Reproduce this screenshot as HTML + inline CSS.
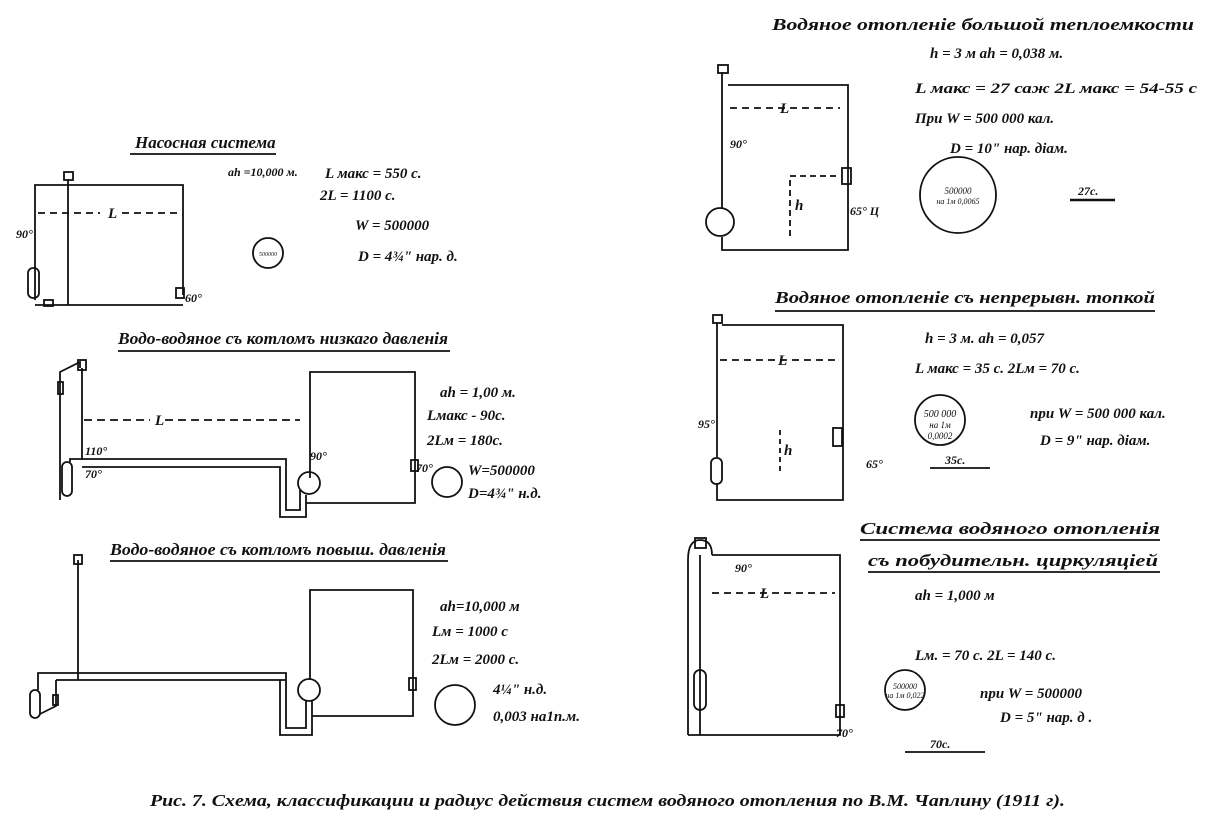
<!DOCTYPE html>
<html><head><meta charset="utf-8"><style>
html,body{margin:0;padding:0;background:#fff;}
svg{display:block;}
text{font-family:"Liberation Serif",serif;font-style:italic;fill:#111;}
.h{font-size:17px;font-weight:bold;}
.t{font-size:15px;font-weight:bold;}
.s{font-size:12px;font-weight:bold;}
.cap{font-size:17px;font-weight:bold;}
</style></head><body>
<svg width="1208" height="825" viewBox="0 0 1208 825" xmlns="http://www.w3.org/2000/svg">
<g stroke="#111" stroke-width="1.8" fill="none">
<!-- Diagram 1 -->
<line x1="130" y1="154" x2="276" y2="154"/>
<polyline points="35,300 35,185 183,185 183,295"/>
<line x1="68" y1="180" x2="68" y2="305"/>
<line x1="35" y1="305" x2="183" y2="305"/>
<line x1="38" y1="213" x2="100" y2="213" stroke-dasharray="7,5"/>
<line x1="122" y1="213" x2="180" y2="213" stroke-dasharray="7,5"/>
<rect x="64" y="172" width="9" height="8"/>
<rect x="28" y="268" width="11" height="30" rx="5"/>
<rect x="44" y="300" width="9" height="6"/>
<rect x="176" y="288" width="8" height="10"/>
<circle cx="268" cy="253" r="15"/>
<!-- Diagram 2 -->
<line x1="118" y1="351" x2="450" y2="351"/>
<polyline points="80,368 80,362 60,372 60,500"/>
<line x1="82" y1="368" x2="82" y2="460"/>
<rect x="78" y="360" width="8" height="10"/>
<rect x="58" y="382" width="5" height="12"/>
<rect x="62" y="462" width="10" height="34" rx="5"/>
<line x1="84" y1="420" x2="150" y2="420" stroke-dasharray="8,5"/>
<line x1="165" y1="420" x2="300" y2="420" stroke-dasharray="8,5"/>
<polyline points="70,462 70,459 286,459 286,510 300,510 300,490"/>
<polyline points="82,467 280,467 280,517 306,517 306,495"/>
<polyline points="310,478 310,372 415,372 415,503 306,503"/>
<circle cx="309" cy="483" r="11"/>
<rect x="411" y="460" width="7" height="11"/>
<circle cx="447" cy="482" r="15"/>
<!-- Diagram 3 -->
<line x1="110" y1="561" x2="448" y2="561"/>
<line x1="78" y1="560" x2="78" y2="680"/>
<rect x="74" y="555" width="8" height="9"/>
<polyline points="38,690 38,673 286,673 286,728 306,728 306,700"/>
<polyline points="56,680 286,680 280,680 280,735 312,735 312,700"/>
<polyline points="56,680 56,706 40,714"/>
<rect x="30" y="690" width="10" height="28" rx="5"/>
<rect x="53" y="695" width="5" height="10"/>
<polyline points="310,680 310,590 413,590 413,716 312,716"/>
<circle cx="309" cy="690" r="11"/>
<rect x="409" y="678" width="7" height="12"/>
<circle cx="455" cy="705" r="20"/>
<!-- Right top -->
<polyline points="722,72 722,208"/>
<rect x="718" y="65" width="10" height="8"/>
<polyline points="728,85 848,85 848,250 722,250 722,237"/>
<circle cx="720" cy="222" r="14"/>
<line x1="730" y1="108" x2="840" y2="108" stroke-dasharray="7,5"/>
<polyline points="790,236 790,176 840,176" stroke-dasharray="6,4"/>
<rect x="842" y="168" width="9" height="16"/>
<circle cx="958" cy="195" r="38"/>
<line x1="1070" y1="200" x2="1115" y2="200" stroke-width="2.5"/>
<!-- Right middle -->
<line x1="775" y1="311" x2="1155" y2="311"/>
<rect x="713" y="315" width="9" height="8"/>
<polyline points="717,323 717,457"/>
<polyline points="722,325 843,325 843,500 717,500 717,483"/>
<rect x="711" y="458" width="11" height="26" rx="5"/>
<line x1="720" y1="360" x2="840" y2="360" stroke-dasharray="7,5"/>
<line x1="780" y1="430" x2="780" y2="475" stroke-dasharray="5,4"/>
<rect x="833" y="428" width="9" height="18"/>
<circle cx="940" cy="420" r="25"/>
<line x1="930" y1="468" x2="990" y2="468"/>
<!-- Right bottom -->
<line x1="860" y1="540" x2="1160" y2="540"/>
<line x1="868" y1="572" x2="1160" y2="572"/>
<path d="M688,735 L688,560 Q688,540 700,540 Q712,540 712,555"/>
<line x1="700" y1="555" x2="700" y2="735"/>
<rect x="695" y="538" width="11" height="10"/>
<rect x="694" y="670" width="12" height="40" rx="6"/>
<polyline points="712,555 840,555 840,735 688,735"/>
<line x1="712" y1="593" x2="835" y2="593" stroke-dasharray="7,5"/>
<rect x="836" y="705" width="8" height="12"/>
<circle cx="905" cy="690" r="20"/>
<line x1="905" y1="752" x2="985" y2="752"/>
</g>
<!-- texts -->
<text class="h" x="135" y="148">Насосная  система</text>
<text class="s" x="228" y="176">ah =10,000 м.</text>
<text class="t" x="325" y="178">L макс = 550 с.</text>
<text class="t" x="320" y="200">2L =  1100 с.</text>
<text class="t" x="355" y="230">W = 500000</text>
<text class="t" x="358" y="261">D = 4¾" нар. д.</text>
<text class="t" x="108" y="218">L</text>
<text class="s" x="16" y="238">90°</text>
<text class="s" x="185" y="302">60°</text>
<text x="268" y="256" font-size="6" text-anchor="middle">500000</text>

<text class="h" x="118" y="344" textLength="330" lengthAdjust="spacingAndGlyphs">Водо-водяное съ котломъ низкаго давленія</text>
<text class="t" x="155" y="425">L</text>
<text class="s" x="85" y="455">110°</text>
<text class="s" x="85" y="478">70°</text>
<text class="s" x="310" y="460">90°</text>
<text class="s" x="416" y="472">70°</text>
<text class="t" x="440" y="397">ah =  1,00 м.</text>
<text class="t" x="427" y="420">Lмакс - 90с.</text>
<text class="t" x="427" y="445">2Lм = 180с.</text>
<text class="t" x="468" y="475">W=500000</text>
<text class="t" x="468" y="498">D=4¾" н.д.</text>

<text class="h" x="110" y="555" textLength="336" lengthAdjust="spacingAndGlyphs">Водо-водяное съ котломъ повыш. давленія</text>
<text class="t" x="440" y="611">ah=10,000 м</text>
<text class="t" x="432" y="636">Lм  =  1000 с</text>
<text class="t" x="432" y="664">2Lм = 2000 с.</text>
<text class="t" x="493" y="694">4¼" н.д.</text>
<text class="t" x="493" y="721">0,003 на1п.м.</text>

<text class="h" x="772" y="30" textLength="422" lengthAdjust="spacingAndGlyphs">Водяное  отопленіе  большой  теплоемкости</text>
<text class="t" x="930" y="58">h = 3 м     ah = 0,038 м.</text>
<text class="t" x="915" y="93" textLength="282" lengthAdjust="spacingAndGlyphs">L макс = 27 саж   2L макс = 54-55 с</text>
<text class="t" x="915" y="123">При  W = 500 000 кал.</text>
<text class="t" x="950" y="153">D = 10" нар. діам.</text>
<text x="958" y="194" font-size="9" text-anchor="middle">500000</text>
<text x="958" y="204" font-size="8" text-anchor="middle">на 1м 0,0065</text>
<text class="s" x="1078" y="195">27с.</text>
<text class="t" x="780" y="113">L</text>
<text class="s" x="730" y="148">90°</text>
<text class="t" x="795" y="210">h</text>
<text class="s" x="850" y="215">65° Ц</text>

<text class="h" x="775" y="303" textLength="380" lengthAdjust="spacingAndGlyphs">Водяное отопленіе съ непрерывн. топкой</text>
<text class="t" x="925" y="343">h = 3 м.     ah = 0,057</text>
<text class="t" x="915" y="373">L макс  = 35 с.   2Lм = 70 с.</text>
<text class="t" x="1030" y="418">при W = 500 000 кал.</text>
<text class="t" x="1040" y="445">D = 9" нар. діам.</text>
<text x="940" y="417" font-size="10" text-anchor="middle">500 000</text>
<text x="940" y="428" font-size="9" text-anchor="middle">на 1м</text>
<text x="940" y="439" font-size="9" text-anchor="middle">0,0002</text>
<text class="s" x="945" y="464">35с.</text>
<text class="t" x="778" y="365">L</text>
<text class="s" x="698" y="428">95°</text>
<text class="s" x="866" y="468">65°</text>
<text class="t" x="784" y="455">h</text>

<text class="h" x="860" y="534" textLength="300" lengthAdjust="spacingAndGlyphs">Система  водяного  отопленія</text>
<text class="h" x="868" y="566" textLength="290" lengthAdjust="spacingAndGlyphs">съ  побудительн. циркуляціей</text>
<text class="s" x="735" y="572">90°</text>
<text class="t" x="760" y="598">L</text>
<text class="t" x="915" y="600">ah = 1,000 м</text>
<text class="t" x="915" y="660">Lм. = 70 с.   2L = 140 с.</text>
<text class="t" x="980" y="698">при  W = 500000</text>
<text class="t" x="1000" y="722">D = 5" нар. д .</text>
<text x="905" y="689" font-size="8" text-anchor="middle">500000</text>
<text x="905" y="698" font-size="8" text-anchor="middle">на 1м 0,022</text>
<text class="s" x="836" y="737">70°</text>
<text class="s" x="930" y="748">70с.</text>

<text class="cap" x="150" y="806" textLength="915" lengthAdjust="spacingAndGlyphs">Рис. 7. Схема, классификации и радиус действия систем водяного отопления по В.М. Чаплину (1911 г).</text>
</svg>
</body></html>
